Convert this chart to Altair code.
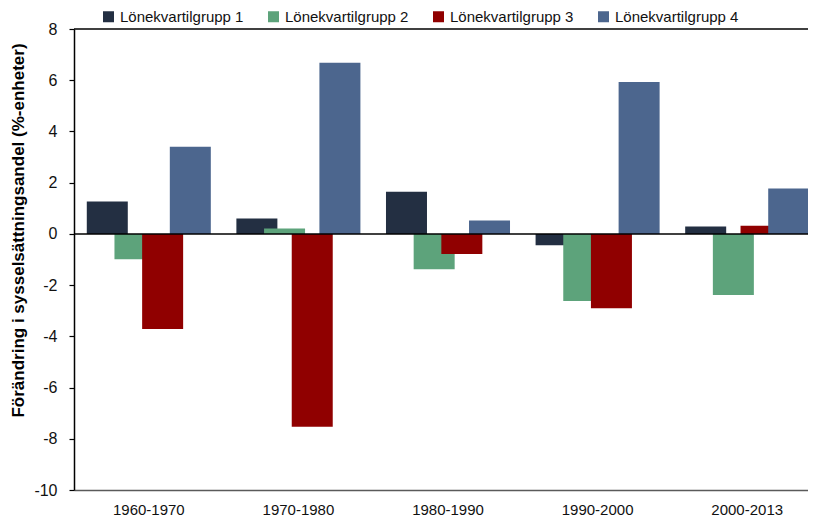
import altair as alt
import pandas as pd

periods = ["1960-1970", "1970-1980", "1980-1990", "1990-2000", "2000-2013"]
series = ["Lönekvartilgrupp 1", "Lönekvartilgrupp 2", "Lönekvartilgrupp 3", "Lönekvartilgrupp 4"]
g1 = [1.26, 0.60, 1.65, -0.44, 0.29]
g2 = [-0.99, 0.21, -1.38, -2.62, -2.39]
g3 = [-3.71, -7.53, -0.79, -2.90, 0.32]
g4 = [3.40, 6.68, 0.52, 5.93, 1.77]
colors = ["#232f42", "#5da37b", "#900000", "#4c668e"]
ref_lines = [0, 8]
y_ticks = [-10, -8, -6, -4, -2, 0, 2, 4, 6, 8]

FONT = "Liberation Sans, Arial, sans-serif"

rows = []
for i, p in enumerate(periods):
    for s, vals in zip(series, [g1, g2, g3, g4]):
        rows.append({"period": p, "group": s, "value": vals[i]})
df = pd.DataFrame(rows)

bars = alt.Chart(df).mark_bar(width=41).encode(
    x=alt.X(
        "period:N",
        sort=periods,
        scale=alt.Scale(paddingInner=0.26, paddingOuter=0.13, range=[0, 748]),
        axis=alt.Axis(
            title=None, labelAngle=0, ticks=False, labelPadding=12,
            labelFont=FONT, labelFontSize=15, labelColor="#111111",
            domainColor="#5a5a5a", domainWidth=1.5,
        ),
    ),
    xOffset=alt.XOffset("group:N", sort=series),
    y=alt.Y(
        "value:Q",
        scale=alt.Scale(domain=[-10, 8], nice=False, zero=False),
        axis=alt.Axis(
            title="Förändring i sysselsättningsandel (%-enheter)",
            values=y_ticks, grid=False, tickSize=5, labelPadding=12,
            labelExpr="'' + datum.value",
            labelFont=FONT, labelFontSize=16, labelColor="#111111",
            domainColor="#000000", domainWidth=1.5, tickColor="#000000", tickWidth=1.2,
            titleFont=FONT, titleFontSize=17, titleFontWeight="bold", titleColor="#000000",
            titlePadding=6, titleY=201,
        ),
    ),
    color=alt.Color(
        "group:N",
        sort=series,
        scale=alt.Scale(domain=series, range=colors),
        legend=alt.Legend(
            title=None, orient="none", legendX=27, legendY=-20, direction="horizontal",
            symbolType="square", symbolSize=121, symbolStrokeWidth=0, symbolOpacity=1,
            labelFont=FONT, labelFontSize=15, labelColor="#111111", labelOffset=4,
            columnPadding=22, labelLimit=300,
        ),
    ),
)

rules = alt.Chart(pd.DataFrame({"y": ref_lines})).mark_rule(color="black", strokeWidth=1.5).encode(
    y=alt.Y("y:Q")
)

chart = alt.layer(bars, rules).properties(
    width=734, height=461,
    autosize=alt.AutoSizeParams(type="none"),
    padding={"left": 66, "top": 21, "right": 0, "bottom": 27},
).configure_view(stroke=None)

chart.save("out.html", embed_options={"renderer": "svg", "actions": False})
